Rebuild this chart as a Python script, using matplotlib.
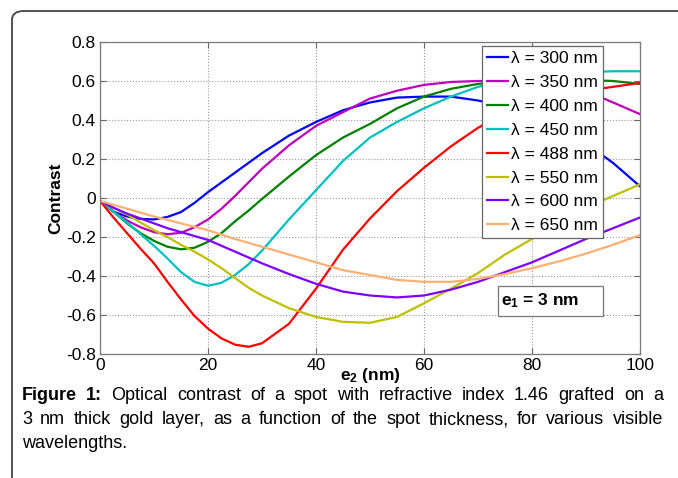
import matplotlib
matplotlib.use('Agg')
import matplotlib.pyplot as plt
from matplotlib.patches import FancyBboxPatch, Rectangle

plt.rcParams['font.family'] = ['Liberation Sans', 'DejaVu Sans']
plt.rcParams['axes.unicode_minus'] = False
plt.rcParams['mathtext.fontset'] = 'custom'
plt.rcParams['mathtext.rm'] = 'Liberation Sans'
plt.rcParams['mathtext.it'] = 'Liberation Sans'
plt.rcParams['mathtext.bf'] = 'Liberation Sans:bold'

# spot thickness e2 (nm), finer where the curves bend most
thickness = [0, 2.5, 5, 7.5, 10, 12.5, 15, 17.5, 20, 22.5, 25, 27.5, 30,
             35, 40, 45, 50, 55, 60, 65, 70, 75, 80, 85, 90, 95, 100]

# contrast, one list per wavelength
c300 = [-0.015, -0.07, -0.095, -0.107, -0.11, -0.097, -0.072, -0.025, 0.03, 0.08, 0.13, 0.18, 0.23,
        0.32, 0.39, 0.45, 0.49, 0.515, 0.52, 0.52, 0.50, 0.47, 0.42, 0.36, 0.28, 0.18, 0.06]
c350 = [-0.015, -0.07, -0.115, -0.15, -0.175, -0.186, -0.178, -0.15, -0.11, -0.055, 0.01, 0.08, 0.15,
        0.27, 0.37, 0.44, 0.51, 0.55, 0.58, 0.595, 0.60, 0.60, 0.59, 0.575, 0.55, 0.49, 0.43]
c400 = [-0.015, -0.07, -0.13, -0.18, -0.22, -0.25, -0.263, -0.255, -0.225, -0.18, -0.12, -0.065, -0.005,
        0.11, 0.22, 0.31, 0.38, 0.46, 0.52, 0.56, 0.585, 0.60, 0.61, 0.61, 0.605, 0.60, 0.585]
c450 = [-0.015, -0.07, -0.125, -0.185, -0.245, -0.31, -0.38, -0.43, -0.45, -0.435, -0.395, -0.34, -0.27,
        -0.11, 0.04, 0.19, 0.31, 0.39, 0.46, 0.52, 0.57, 0.60, 0.62, 0.635, 0.645, 0.65, 0.65]
c488 = [-0.015, -0.10, -0.18, -0.26, -0.335, -0.43, -0.52, -0.605, -0.67, -0.72, -0.752, -0.763, -0.745,
        -0.645, -0.465, -0.265, -0.105, 0.035, 0.155, 0.265, 0.36, 0.435, 0.49, 0.525, 0.55, 0.57, 0.59]
c550 = [-0.015, -0.05, -0.085, -0.125, -0.165, -0.20, -0.24, -0.275, -0.315, -0.36, -0.41, -0.46, -0.50,
        -0.565, -0.61, -0.635, -0.64, -0.61, -0.54, -0.465, -0.385, -0.29, -0.21, -0.13, -0.05, 0.01, 0.07]
c600 = [-0.015, -0.05, -0.08, -0.105, -0.13, -0.155, -0.175, -0.195, -0.215, -0.245, -0.275, -0.305, -0.335,
        -0.39, -0.44, -0.48, -0.50, -0.51, -0.50, -0.47, -0.43, -0.38, -0.33, -0.27, -0.21, -0.155, -0.10]
c650 = [-0.015, -0.035, -0.055, -0.075, -0.095, -0.112, -0.13, -0.148, -0.165, -0.188, -0.21, -0.23, -0.25,
        -0.29, -0.33, -0.37, -0.395, -0.42, -0.43, -0.43, -0.415, -0.39, -0.36, -0.325, -0.285, -0.24, -0.19]

wavelengths = [300, 350, 400, 450, 488, 550, 600, 650]
series = [c300, c350, c400, c450, c488, c550, c600, c650]
colors = ['#0000ff', '#bf00bf', '#008000', '#00bfbf',
          '#ff0000', '#bfbf00', '#7f00ff', '#ffb070']

xticks = [0, 20, 40, 60, 80, 100]
yticks = [-0.8, -0.6, -0.4, -0.2, 0, 0.2, 0.4, 0.6, 0.8]

W, H = 678, 478
fig = plt.figure(figsize=(W / 100, H / 100), dpi=100)

# rounded frame of the figure panel (runs off the right and bottom edge)
frame = FancyBboxPatch((12 / W, -20 / H), (W + 20) / W, (H + 9) / H,
                       boxstyle='round,pad=0,rounding_size=0.018',
                       transform=fig.transFigure, fc='none', ec='#444444',
                       lw=1.3, clip_on=False)
fig.patches.append(frame)

ax = fig.add_axes([100 / W, 1 - 354 / H, 540 / W, 312 / H])
for lam, c, col in zip(wavelengths, series, colors):
    ax.plot(thickness, c, color=col, lw=1.6, label='\u03bb = %d nm' % lam)

ax.set_xlim(0, 100)
ax.set_ylim(-0.8, 0.8)
ax.set_xticks(xticks)
ax.set_yticks(yticks)
ax.set_xticklabels(['%g' % t for t in xticks])
ax.set_yticklabels(['%g' % round(t, 1) for t in yticks])
ax.tick_params(direction='in', length=4, top=True, right=True,
               labelsize=12.5, color='#666666', pad=3)
ax.grid(True, ls=':', color='#9a9a9a', lw=0.8)
for s in ax.spines.values():
    s.set_color('#7a7a7a')
    s.set_linewidth(0.9)

ax.set_ylabel('Contrast', fontsize=12.5, fontweight='bold', labelpad=2)
ax.set_xlabel(r'$\mathbf{e_2}$ (nm)', fontsize=12.5, fontweight='bold', labelpad=-5)

leg = ax.legend(loc='upper right', bbox_to_anchor=(0.931, 0.987), borderaxespad=0,
                fontsize=12.5, handlelength=1.2, handletextpad=0.15,
                labelspacing=0.5, borderpad=0.3, fancybox=False, framealpha=1)
leg.get_frame().set_edgecolor('#666666')
leg.get_frame().set_linewidth(0.9)

ax.add_patch(Rectangle((0.737, 0.122), 0.194, 0.096, transform=ax.transAxes,
                       fc='white', ec='#777777', lw=0.9, zorder=5))
ax.text(0.815, 0.17, r'$\mathbf{e_1}$ = 3 nm', transform=ax.transAxes,
        ha='center', va='center', fontsize=12.5, fontweight='bold', zorder=6)

# justified caption
cap_lines = [
    [('Figure', 'bold'), ('1:', 'bold'), ('Optical', 'normal'), ('contrast', 'normal'),
     ('of', 'normal'), ('a', 'normal'), ('spot', 'normal'), ('with', 'normal'),
     ('refractive', 'normal'), ('index', 'normal'), ('1.46', 'normal'),
     ('grafted', 'normal'), ('on', 'normal'), ('a', 'normal')],
    [(w, 'normal') for w in '3 nm thick gold layer, as a function of the spot '
                            'thickness, for various visible'.split()],
    [('wavelengths.', 'normal')],
]
cap_y = [396, 420, 443]
x_left, x_right = 22, 663
renderer = fig.canvas.get_renderer()
for i, (words, yy) in enumerate(zip(cap_lines, cap_y)):
    texts = []
    widths = []
    for w, fw in words:
        t = fig.text(0, 1 - yy / H, w, fontsize=13, fontweight=fw,
                     va='center', ha='left')
        texts.append(t)
        widths.append(t.get_window_extent(renderer).width)
    if i < len(cap_lines) - 1:
        gap = (x_right - x_left - sum(widths)) / (len(words) - 1)
    else:
        gap = 4
    x = x_left
    for t, wd in zip(texts, widths):
        t.set_x(x / W)
        x += wd + gap

fig.savefig('out.png', dpi=100)
